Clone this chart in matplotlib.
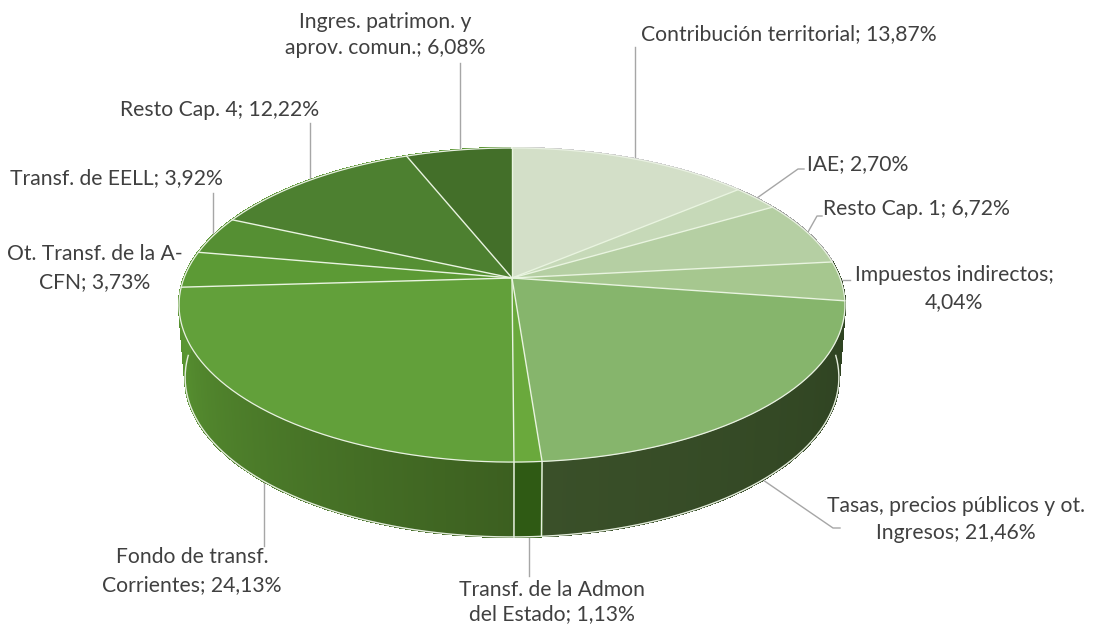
# -*- coding: utf-8 -*-
"""
Tarta 3D de ingresos, dibujada a mano en coordenadas de pixel
"""
import numpy as np
import matplotlib
matplotlib.use('Agg')
import matplotlib.pyplot as plt

plt.rcParams['font.family'] = ['Lato', 'DejaVu Sans']

# datos
categories = ['Contribución territorial', 'IAE', 'Resto Cap. 1', 'Impuestos indirectos',
              'Tasas, precios públicos y ot. Ingresos', 'Transf. de la Admon del Estado',
              'Fondo de transf. Corrientes', 'Ot. Transf. de la A-CFN', 'Transf. de EELL',
              'Resto Cap. 4', 'Ingres. patrimon. y aprov. comun.']
values = [13.87, 2.70, 6.72, 4.04, 21.46, 1.13, 24.13, 3.73, 3.92, 12.22, 6.08]

# colores
top_colors = ['#d3dfc8', '#c6d9b8', '#b5cfa3', '#a6c78f', '#86b56c', '#6aa93c',
              '#62a03a', '#5c9a35', '#558f33', '#4d8030', '#436f29']
side_right = ['#cccccc', '#aaaaaa', '#999999', '#2a3f1e', '#2e4221', '#2f5a14',
              '#3c5f20', '#5a9632', '#5a9632', '#5a9632', '#5a9632']
side_left = ['#cccccc', '#aaaaaa', '#999999', '#2a3f1e', '#3a5029', '#2f5a14',
             '#5a9632', '#5a9632', '#5a9632', '#5a9632', '#5a9632']

# etiquetas: lineas de texto, x, y por linea
label_lines = [
    (['Contribución territorial; 13,87%'], 789, [34]),
    (['IAE; 2,70%'], 858, [164]),
    (['Resto Cap. 1; 6,72%'], 916, [209]),
    (['Impuestos indirectos;', '4,04%'], 954, [275, 302]),
    (['Tasas, precios públicos y ot.', 'Ingresos; 21,46%'], 956, [506, 533]),
    (['Transf. de la Admon', 'del Estado; 1,13%'], 552, [590, 614]),
    (['Fondo de transf.', 'Corrientes; 24,13%'], 192, [557, 585]),
    (['Ot. Transf. de la A-', 'CFN; 3,73%'], 95, [254, 282]),
    (['Transf. de EELL; 3,92%'], 116, [178]),
    (['Resto Cap. 4; 12,22%'], 220, [110]),
    (['Ingres. patrimon. y', 'aprov. comun.; 6,08%'], 385, [22, 48]),
]

# lineas guia
leaders = [
    ([635, 635], [47, 157]),
    ([804, 798, 757], [169, 169, 198]),
    ([822, 817, 808], [216, 216, 232]),
    ([850, 842], [280, 280]),
    ([840, 833, 763], [528, 528, 480]),
    ([529, 529], [537, 576]),
    ([264, 264], [478, 546]),
    ([213, 213], [193, 234]),
    ([310, 310], [123, 179]),
    ([460, 460], [63, 148]),
]

CX = 512
K = 0.172


def project(theta, y0, a, rx):
    # perspectiva del disco; theta en radianes, horario desde arriba
    u, v = np.sin(theta), np.cos(theta)
    d = 1 + K * v
    return CX + rx * u / d, y0 - a * v / d


def top_pt(theta):
    return project(theta, 278, 152.4, 328)


def low_pt(theta):
    return project(theta, 350, 154.8, 322)


def mix(c1, c2, t):
    a = np.array(matplotlib.colors.to_rgb(c1))
    b = np.array(matplotlib.colors.to_rgb(c2))
    return tuple(a + (b - a) * t)


fig = plt.figure(figsize=(11.01, 6.25), dpi=100, facecolor='white')
ax = fig.add_axes([0, 0, 1, 1])
ax.set_xlim(0, 1101)
ax.set_ylim(625, 0)
ax.axis('off')

edges = np.radians(np.concatenate([[0], np.cumsum(values)]) * 3.6)

# guias primero, quedan por debajo de la tarta
for xs, ys in leaders:
    ax.plot(xs, ys, color='#a6a6a6', lw=1, zorder=1)

# lateral, sin antialias para que no salgan rayas entre trozos
for i in range(len(values)):
    th = np.linspace(edges[i], edges[i + 1], int((edges[i + 1] - edges[i]) * 200) + 2)
    for j in range(len(th) - 1):
        x1, y1 = top_pt(th[j])
        x2, y2 = top_pt(th[j + 1])
        x3, y3 = low_pt(th[j + 1])
        x4, y4 = low_pt(th[j])
        col = mix(side_right[i], side_left[i], j / max(len(th) - 2, 1))
        ax.fill([x1, x2, x3, x4], [y1, y2, y3, y4], color=col, lw=1,
                antialiased=False, zorder=2)

# borde inferior
th = np.linspace(np.radians(92), np.radians(268), 200)
x, y = low_pt(th)
ax.plot(x, y, color='#e4eddc', lw=1, zorder=3)

# juntas verticales del lateral, solo las de la parte frontal
for e in edges:
    if np.radians(170) < e < np.radians(190):
        x1, y1 = top_pt(e)
        x2, y2 = low_pt(e)
        ax.plot([x1, x2], [y1, y2], color='#e6f0de', lw=1.1, zorder=3)

# cara superior
for i in range(len(values)):
    th = np.linspace(edges[i], edges[i + 1], 80)
    x, y = top_pt(th)
    ax.fill(np.r_[CX, x], np.r_[278, y], color=top_colors[i], lw=0.5, zorder=4)

# separadores
for e in edges[:-1]:
    x, y = top_pt(e)
    ax.plot([CX, x], [278, y], color='#e9f4e0', lw=1, zorder=5)

# borde de la cara superior
th = np.linspace(0, 2 * np.pi, 400)
x, y = top_pt(th)
ax.plot(x, y, color='#e9f1e2', lw=0.9, zorder=5)

# textos
for lines, lx, lys in label_lines:
    for line, ly in zip(lines, lys):
        ax.text(lx, ly, line, ha='center', va='center', fontsize=15.2,
                color='#404040', zorder=6)

fig.savefig('out.png', dpi=100, facecolor='white')
plt.close(fig)
